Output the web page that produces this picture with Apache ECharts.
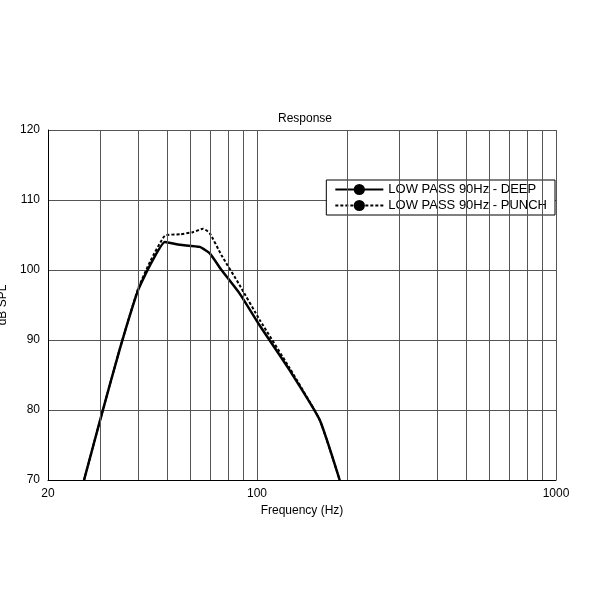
<!DOCTYPE html>
<html><head><meta charset="utf-8">
<script src="https://cdn.jsdelivr.net/npm/echarts@6/dist/echarts.min.js"></script>
<style>html,body{margin:0;background:#fff}#c{width:600px;height:600px}</style>
</head><body><div id="c"></div>
<script>
// frequency (Hz) / SPL (dB)
var deepFreq = [26.4, 29.9, 34.7, 40, 43.9, 49.2, 55.3, 64.3, 69.4, 76.1, 87.3, 102, 128.5, 162, 189];
var deepSpl  = [70, 78.6, 88.6, 97.1, 100.7, 104, 103.6, 103.3, 102.4, 100, 96.7, 92.1, 85.7, 78.6, 70];
var punchFreq = [26.4, 29.9, 34.7, 40, 43.9, 49.2, 55.3, 61, 66, 69.4, 76.1, 87.3, 102, 128.5, 162, 189];
var punchSpl  = [70, 78.6, 88.6, 97.3, 101.2, 104.9, 105.1, 105.4, 105.9, 105.3, 102.1, 97.9, 92.9, 86, 78.6, 70];
var gridFreqs = [30, 40, 50, 60, 70, 80, 90, 200, 300, 400, 500, 600, 700, 800, 900];

function pairs(xs, ys) { return xs.map(function (x, i) { return [x, ys[i]]; }); }

var chart = echarts.init(document.getElementById('c'));
chart.setOption({
  animation: false,
  title: { text: 'Response', left: 300, top: 108, textAlign: 'center',
    textStyle: { fontSize: 12, fontWeight: 'normal', fontFamily: 'Arial', color: '#000' } },
  legend: {
    right: 45, top: 180, orient: 'vertical', itemWidth: 48, itemGap: 3,
    borderColor: '#000', borderWidth: 1, borderRadius: 0, padding: [3, 8],
    backgroundColor: '#fff',
    textStyle: { fontSize: 13, fontFamily: 'Arial', color: '#000' },
    data: ['LOW PASS 90Hz - DEEP', 'LOW PASS 90Hz - PUNCH']
  },
  grid: { left: 48, right: 44, top: 130, bottom: 120, containLabel: false, outerBoundsMode: 'none' },
  xAxis: {
    type: 'log', logBase: 10, min: 20, max: 1000,
    name: 'Frequency (Hz)', nameLocation: 'middle', nameGap: 20,
    nameTextStyle: { fontSize: 12, fontFamily: 'Arial', color: '#000' },
    axisLine: { lineStyle: { color: '#000' } }, axisTick: { show: false },
    axisLabel: { showMinLabel: true, fontSize: 12, fontFamily: 'Arial', color: '#000', margin: 8,
      formatter: function (v) { return [20, 100, 1000].indexOf(Math.round(v)) >= 0 ? Math.round(v) : ''; } },
    splitLine: { show: true, lineStyle: { color: '#555', width: 1 } }
  },
  yAxis: {
    type: 'value', min: 70, max: 120, interval: 10,
    name: 'dB SPL', nameLocation: 'middle', nameGap: 26,
    nameTextStyle: { fontSize: 12, fontFamily: 'Arial', color: '#000' },
    axisLine: { show: true, lineStyle: { color: '#000' } }, axisTick: { show: false },
    axisLabel: { fontSize: 12, fontFamily: 'Arial', color: '#000' },
    splitLine: { lineStyle: { color: '#555', width: 1 } }
  },
  series: [
    { name: 'grid', type: 'line', data: [], silent: true,
      markLine: { symbol: 'none', silent: true, label: { show: false },
        lineStyle: { color: '#555', width: 1, type: 'solid' },
        data: gridFreqs.map(function (f) { return { xAxis: f }; }) } },
    { name: 'LOW PASS 90Hz - PUNCH', type: 'line', smooth: 0.15, symbol: 'none',
      data: pairs(punchFreq, punchSpl), itemStyle: { color: '#000' },
      lineStyle: { color: '#000', width: 2, type: [3, 2] } },
    { name: 'LOW PASS 90Hz - DEEP', type: 'line', smooth: 0.15, symbol: 'none',
      data: pairs(deepFreq, deepSpl), itemStyle: { color: '#000' },
      lineStyle: { color: '#000', width: 2.5 } }
  ]
});
</script></body></html>
